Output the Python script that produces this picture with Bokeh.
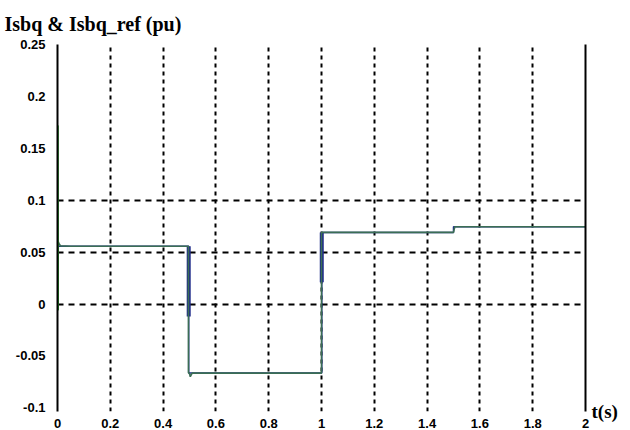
from bokeh.plotting import figure
from bokeh.models import FixedTicker, LinearAxis, Range1d
from bokeh.embed import file_html
from bokeh.resources import INLINE

# ---- data ----
isq_t = [0.0, 0.0, 0.001, 0.003, 0.006, 0.012, 0.05, 0.2, 0.496, 0.496, 0.5, 0.503, 0.51, 0.6, 0.8, 1.0, 1.0, 1.005, 1.2, 1.5, 1.505, 1.6, 1.8, 2.0]
isq_v = [0.0, 0.172, -0.006, 0.06, 0.058, 0.056, 0.0556, 0.0556, 0.0556, -0.066, -0.067, -0.070, -0.0665, -0.0665, -0.0665, -0.0665, 0.069, 0.069, 0.069, 0.069, 0.0745, 0.0745, 0.0745, 0.0745]

ref_t = [0.0, 0.497, 0.497, 1.001, 1.001, 1.5, 1.5, 2.0]
ref_v = [0.0556, 0.0556, -0.0665, -0.0665, 0.069, 0.069, 0.0745, 0.0745]

# transient portions where the reference trace shows through (thick)
spike_t = [0.497, 1.001]
spike_lo = [-0.012, 0.021]
spike_hi = [0.0556, 0.069]

x_ticks = [0, 0.2, 0.4, 0.6, 0.8, 1.0, 1.2, 1.4, 1.6, 1.8, 2.0]
x_labels = ["0", "0.2", "0.4", "0.6", "0.8", "1", "1.2", "1.4", "1.6", "1.8", "2"]
y_ticks = [-0.1, -0.05, 0, 0.05, 0.1, 0.15, 0.2, 0.25]
y_labels = ["-0.1", "-0.05", "0", "0.05", "0.1", "0.15", "0.2", "0.25"]
x_grid = [0.2, 0.4, 0.6, 0.8, 1.0, 1.2, 1.4, 1.6, 1.8]
y_grid = [0, 0.05, 0.1]

title_text = "Isbq & Isbq_ref (pu)"
x_title = "t(s)"

p = figure(width=630, height=430, output_backend="svg", toolbar_location=None,
           x_range=Range1d(0, 2.0), y_range=Range1d(-0.1035, 0.25),
           min_border_left=57, min_border_right=45, min_border_top=44, min_border_bottom=19)
p.background_fill_color = "white"
p.border_fill_color = "white"
p.outline_line_color = None

p.title.text = title_text
p.title.align = "left"
p.title.offset = -53
p.title.text_font = "Liberation Serif"
p.title.text_font_size = "20px"
p.title.text_font_style = "bold"
p.title.text_color = "black"
p.title.standoff = 20

# axes
for ax in (p.xaxis[0], p.yaxis[0]):
    ax.major_tick_line_color = None
    ax.minor_tick_line_color = None
    ax.major_label_text_font = "Liberation Sans"
    ax.major_label_text_font_style = "bold"
    ax.major_label_text_font_size = "13px"
    ax.major_label_text_color = "black"
    ax.major_label_standoff = 3

p.xaxis.ticker = FixedTicker(ticks=x_ticks)
p.xaxis.major_label_overrides = {t: l for t, l in zip(x_ticks, x_labels)}
p.xaxis.axis_line_color = None
p.xaxis.major_label_standoff = 1
p.yaxis.ticker = FixedTicker(ticks=y_ticks)
p.yaxis.major_label_overrides = {t: l for t, l in zip(y_ticks, y_labels)}
p.yaxis.axis_line_color = "black"
p.yaxis.axis_line_width = 2
p.yaxis.major_label_standoff = 6

right = LinearAxis(ticker=FixedTicker(ticks=[]), axis_line_color="black", axis_line_width=2,
                   major_tick_line_color=None, minor_tick_line_color=None,
                   major_label_text_font_size="0px",
                   axis_label=x_title, axis_label_orientation="horizontal",
                   axis_label_align="start", axis_label_standoff=6,
                   axis_label_text_font="Liberation Serif", axis_label_text_font_size="19px",
                   axis_label_text_font_style="bold", axis_label_text_color="black")
p.add_layout(right, "right")

# grids
p.xgrid.ticker = FixedTicker(ticks=x_grid)
p.xgrid.grid_line_color = "black"
p.xgrid.grid_line_width = 2
p.xgrid.grid_line_dash = "4 4"
p.ygrid.ticker = FixedTicker(ticks=y_grid)
p.ygrid.grid_line_color = "black"
p.ygrid.grid_line_width = 2
p.ygrid.grid_line_dash = "6 5"

# traces
p.line(ref_t, ref_v, line_color="#1f2a8a", line_width=1.5)
p.segment(x0=spike_t, y0=spike_lo, x1=spike_t, y1=spike_hi, line_color="#1f2a8a", line_width=4)
p.line(isq_t, isq_v, line_color="#3b6e55", line_width=1.6)
p.line(isq_t[:3], isq_v[:3], line_color="#2aa02a", line_width=2.5)

open("out.html", "w").write(file_html(p, INLINE))
